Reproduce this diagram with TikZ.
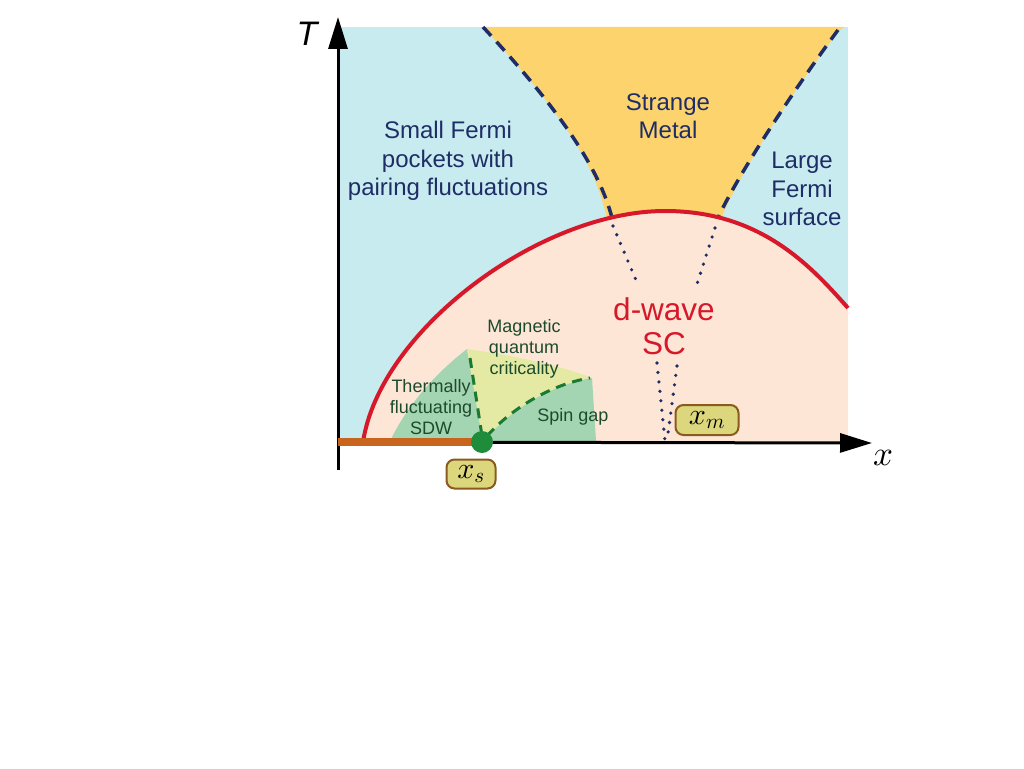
\documentclass[tikz,border=0pt]{standalone}
\DeclareFontFamily{OML}{cmm}{\skewchar\font'177}
\DeclareFontShape{OML}{cmm}{m}{it}{<->cmmi10}{}
\usepackage{fontspec}
\setmainfont{Liberation Sans}
\usetikzlibrary{arrows.meta}
\definecolor{bluebg}{HTML}{C8EBF0}
\definecolor{orangec}{HTML}{FCD36C}
\definecolor{peach}{HTML}{FDE6D6}
\definecolor{scred}{HTML}{D6182A}
\definecolor{greenreg}{HTML}{A4D5B2}
\definecolor{yellowreg}{HTML}{E4EAA4}
\definecolor{navy}{HTML}{1E2D66}
\definecolor{dgreen}{HTML}{1A7A32}
\definecolor{lgreen}{HTML}{1C4A2C}
\definecolor{brownline}{HTML}{C8641E}
\definecolor{dotgreen}{HTML}{1E8C3A}
\definecolor{boxfill}{HTML}{DCD67C}
\definecolor{boxdraw}{HTML}{8A5A1E}
\tikzset{
  axisline/.style={line width=3pt, black, -{Triangle[length=32pt,width=19pt]}},
  bigdash/.style={navy, line width=3.5pt, dash pattern=on 12pt off 8pt},
  dotline/.style={navy, line width=3.6pt, line cap=round, dash pattern=on 0pt off 9.5pt},
  gdash/.style={dgreen, line width=3pt, dash pattern=on 10pt off 7pt},
  biglabel/.style={navy, font=\fontsize{24}{28.5}\selectfont, align=center},
  smalllabel/.style={lgreen, font=\fontsize{18}{21}\selectfont, align=center},
  sclabel/.style={scred, font=\fontsize{31.5}{34}\selectfont, align=center},
  xbox/.style={draw=boxdraw, fill=boxfill, line width=2pt, rounded corners=8pt, inner sep=0pt, font=\fontsize{30}{30}\selectfont}
}
\begin{document}
\begin{tikzpicture}[x=1pt,y=-1pt]
\useasboundingbox (0,0) rectangle (1024,768);
\def\mydome{(363,442) .. controls (380,330) and (540,211) .. (665,211) .. controls (760,211) and (810,265) .. (848,308)}
% background regions
\fill[bluebg] (338,27) rectangle (848,442);
\fill[orangec] (483,27) -- (844,27) -- (838,32) .. controls (790,95) and (735,180) .. (718,226) -- (608,226) .. controls (600,170) and (560,110) .. (483,27) -- cycle;
\fill[peach] \mydome -- (848,442) -- cycle;
% low-x regions
\fill[greenreg] (390,441) .. controls (410,400) and (440,370) .. (467,349) -- (483,442) -- cycle;
\fill[yellowreg] (467,349) .. controls (510,355) and (560,365) .. (592,378) .. controls (550,385) and (510,410) .. (483,442) -- cycle;
\fill[greenreg] (592,378) -- (596,441) -- (483,442) .. controls (510,410) and (550,385) .. (592,378) -- cycle;
% boundaries
\draw[bigdash] (483,27) .. controls (560,110) and (600,170) .. (612,218);
\draw[bigdash] (838,30) .. controls (790,95) and (735,180) .. (718,218);
\draw[dotline] (613,226) -- (636,280);
\draw[dotline] (715,228) -- (697,284);
\draw[dotline] (657,363) -- (665,441);
\draw[dotline] (677,366) -- (667,441);
\draw[scred, line width=4pt] \mydome;
\draw[gdash] (470,358) -- (482,436);
\draw[gdash] (487,436) .. controls (512,408) and (552,384) .. (590,378);
% axes
\coordinate (O) at (338,442);
\coordinate (Ttip) at (338,17);
\coordinate (Xtip) at (872,443);
\coordinate (xs) at (482,442);
\draw[axisline] (338,470) -- (Ttip);
\draw[axisline] (O) -- (Xtip);
\draw[brownline, line width=8pt] (O) -- (xs);
\fill[dotgreen] (xs) circle (11pt);
% labels
\node[font=\fontsize{34}{34}\selectfont\itshape] (Tlab) at (307,34) {T};
\node[font=\fontsize{35}{35}\selectfont] (xlab) at (883,458) {$x$};
\node[biglabel] (small) at (448,161) {Small Fermi\\pockets with\\pairing fluctuations};
\node[biglabel] (strange) at (668,116) {Strange\\Metal};
\node[biglabel] (large) at (802,189) {Large\\Fermi\\surface};
\node[sclabel] (sc) at (664,326) {d-wave\\SC};
\node[smalllabel] (mqc) at (524,349) {Magnetic\\quantum\\criticality};
\node[smalllabel] (sdw) at (431,407) {Thermally\\fluctuating\\SDW};
\node[smalllabel] (sg) at (573,417) {Spin gap};
\node[xbox, minimum width=49pt, minimum height=29pt] (xsbox) at (471,474) {$x_s$};
\node[xbox, minimum width=63pt, minimum height=30pt] (xmbox) at (707,420) {$x_m$};
\end{tikzpicture}
\end{document}
